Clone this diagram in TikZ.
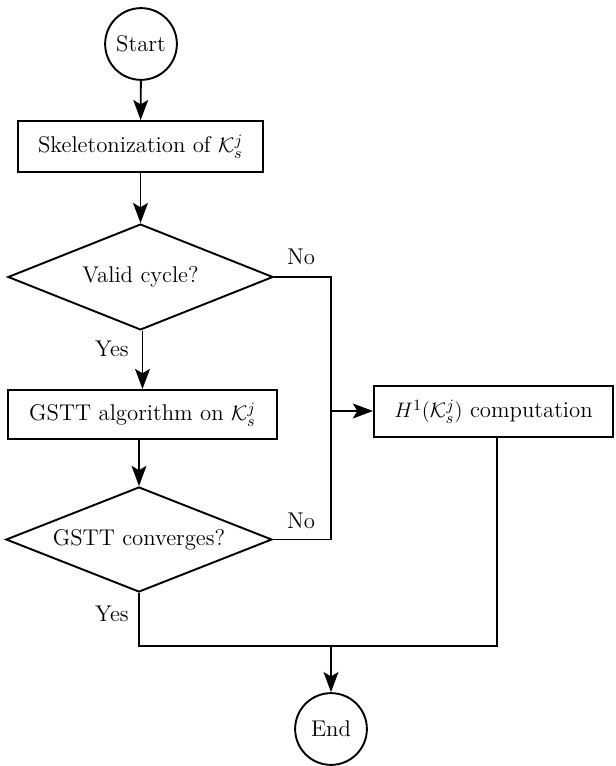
\documentclass[tikz,border=0pt]{standalone}
\usetikzlibrary{shapes.geometric,arrows.meta}
\begin{document}
\begin{tikzpicture}[x=0.5714pt,y=-0.5714pt,
  line width=1.1pt,
  every node/.style={inner sep=0pt,font=\fontsize{13}{15.5}\selectfont},
  term/.style={circle,draw,minimum size=41pt},
  procbox/.style={rectangle,draw,minimum height=29pt},
  decide/.style={diamond,draw,aspect=2.5,minimum width=151.5pt,minimum height=60.5pt},
  arr/.style={-{Stealth[length=11.5pt,width=8.5pt,inset=2.5pt]}}]
\useasboundingbox (0,0) rectangle (615,766);
\node[term] (start) at (141,44) {Start};
\node[procbox,minimum width=140pt] (skel) at (140.5,146.5) {Skeletonization of $\mathcal{K}_s^j$};
\node[decide] (d1) at (140.5,277) {Valid cycle?};
\node[procbox,minimum width=153.7pt,minimum height=28pt] (gstt) at (142.5,414.5) {GSTT algorithm on $\mathcal{K}_s^j$};
\node[decide,minimum width=152pt,minimum height=60pt] (d2) at (139,539.5) {GSTT converges?};
\node[procbox,minimum width=136.6pt] (h) at (493.5,411.5) {$H^1(\mathcal{K}_s^j)$ computation};
\node[term] (end) at (331,729) {End};
\coordinate (j) at (331,411);
\coordinate (b) at (331,646);
\node (no1) at (301,257) {No};
\node (no2) at (301,521) {No};
\node (yes1) at (112,349) {Yes};
\node (yes2) at (112,614) {Yes};
\draw[arr] (start) -- (skel);
\draw[arr] (skel) -- (skel|-d1.north);
\draw[arr] (d1.south-|gstt) -- (gstt);
\draw[arr] (gstt.south-|d2) -- (d2);
\draw (d1.east) -| (j);
\draw (d2.east) -| (j);
\draw[arr] (j) -- (h.west|-j);
\draw (d2.south) |- (b);
\draw ([xshift=2pt]h.south) |- (b);
\draw[arr] (b) -- (end);
\end{tikzpicture}
\end{document}
